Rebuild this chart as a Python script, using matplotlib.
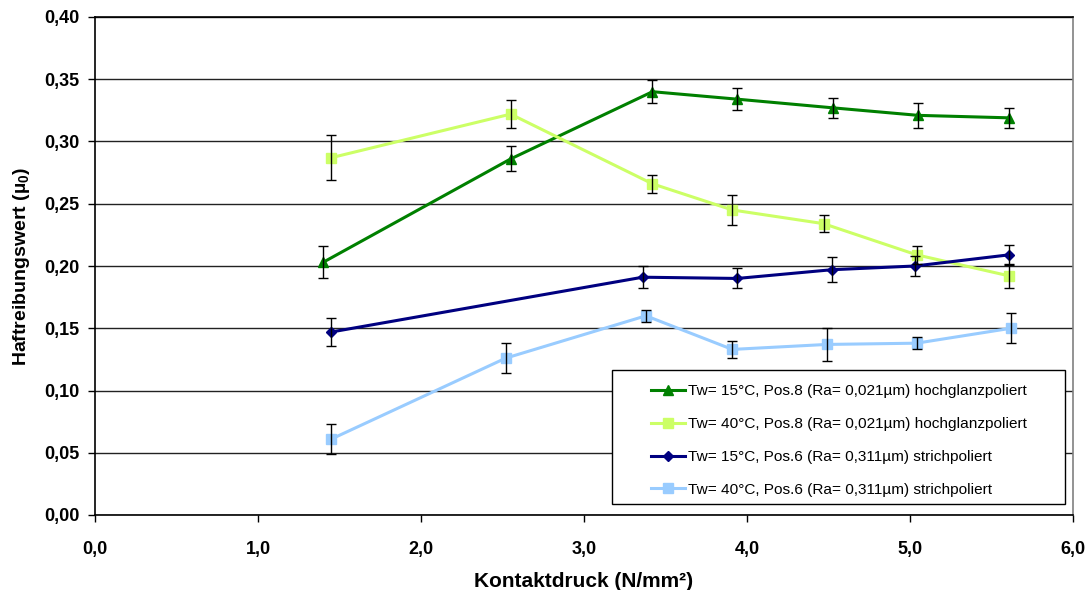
import matplotlib
matplotlib.use('Agg')
import matplotlib.pyplot as plt
from matplotlib.patches import Rectangle
from matplotlib.ticker import FuncFormatter, MultipleLocator

plt.rcParams['font.family'] = ['Liberation Sans', 'DejaVu Sans']
plt.rcParams['mathtext.fontset'] = 'custom'
plt.rcParams['mathtext.rm'] = 'Liberation Sans:bold'
plt.rcParams['mathtext.bf'] = 'Liberation Sans:bold'

# Tw=15°C, Pos.8 hochglanzpoliert
x_15_p8 = [1.40, 2.55, 3.42, 3.94, 4.53, 5.05, 5.61]
y_15_p8 = [0.203, 0.286, 0.340, 0.334, 0.327, 0.321, 0.319]
e_15_p8 = [0.013, 0.010, 0.009, 0.009, 0.008, 0.010, 0.008]

# Tw=40°C, Pos.8 hochglanzpoliert
x_40_p8 = [1.45, 2.55, 3.42, 3.91, 4.47, 5.04, 5.61]
y_40_p8 = [0.287, 0.322, 0.266, 0.245, 0.234, 0.209, 0.192]
e_40_p8 = [0.018, 0.011, 0.007, 0.012, 0.007, 0.007, 0.010]

# Tw=15°C, Pos.6 strichpoliert
x_15_p6 = [1.45, 3.36, 3.94, 4.52, 5.03, 5.61]
y_15_p6 = [0.147, 0.191, 0.190, 0.197, 0.200, 0.209]
e_15_p6 = [0.011, 0.009, 0.008, 0.010, 0.008, 0.008]

# Tw=40°C, Pos.6 strichpoliert
x_40_p6 = [1.45, 2.52, 3.38, 3.91, 4.49, 5.04, 5.62]
y_40_p6 = [0.061, 0.126, 0.160, 0.133, 0.137, 0.138, 0.150]
e_40_p6 = [0.012, 0.012, 0.005, 0.007, 0.013, 0.005, 0.012]

series = [
    (x_15_p8, y_15_p8, e_15_p8, '#008000', '^', 7, 'Tw= 15°C, Pos.8 (Ra= 0,021µm) hochglanzpoliert'),
    (x_40_p8, y_40_p8, e_40_p8, '#CCFF66', 's', 6.5, 'Tw= 40°C, Pos.8 (Ra= 0,021µm) hochglanzpoliert'),
    (x_15_p6, y_15_p6, e_15_p6, '#000080', 'D', 5, 'Tw= 15°C, Pos.6 (Ra= 0,311µm) strichpoliert'),
    (x_40_p6, y_40_p6, e_40_p6, '#99CCFF', 's', 6.5, 'Tw= 40°C, Pos.6 (Ra= 0,311µm) strichpoliert'),
]

fig = plt.figure(figsize=(10.9, 5.9), dpi=100)
ax = fig.add_axes([95/1090, 1 - 515/590, 978/1090, 498/590])

for x, y, e, c, m, ms, lab in series:
    ax.plot(x, y, color=c, lw=2.2, marker=m, ms=ms, label=lab, zorder=3)
for x, y, e, c, m, ms, lab in series:
    ax.errorbar(x, y, yerr=e, fmt='none', ecolor='black', elinewidth=1, capsize=3.5,
                capthick=1, zorder=4)

ax.set_xlim(0, 6)
ax.set_ylim(0, 0.40)
ax.xaxis.set_major_locator(MultipleLocator(1))
ax.yaxis.set_major_locator(MultipleLocator(0.05))
ax.xaxis.set_major_formatter(FuncFormatter(lambda v, p: f'{v:.1f}'.replace('.', ',')))
ax.yaxis.set_major_formatter(FuncFormatter(lambda v, p: f'{v:.2f}'.replace('.', ',')))
ax.yaxis.grid(True, color='#222222', lw=1)
ax.set_axisbelow(True)
ax.tick_params(direction='out', length=5, width=1, labelsize=13)
ax.tick_params(axis='x', pad=14)
ax.tick_params(axis='y', pad=6)
for lbl in ax.get_xticklabels() + ax.get_yticklabels():
    lbl.set_fontweight('bold')

for s in ['left', 'bottom', 'top']:
    ax.spines[s].set_color('black')
    ax.spines[s].set_linewidth(1.2)
ax.spines['right'].set_color('#808080')
ax.spines['right'].set_linewidth(1.2)

ax.set_xlabel('Kontaktdruck (N/mm²)', fontsize=15, fontweight='bold', labelpad=10)
ax.set_ylabel(r'Haftreibungswert (µ$_{0}$)', fontsize=14, fontweight='bold', labelpad=9)

# legend box with wide side padding, as in the original
bx, by, bw, bh = 0.529, 0.022, 0.463, 0.269
ax.add_patch(Rectangle((bx, by), bw, bh, transform=ax.transAxes, facecolor='white',
                       edgecolor='black', lw=1, zorder=5))
leg = ax.legend(loc='center', bbox_to_anchor=(bx + bw / 2, by + bh / 2 - 0.007), fontsize=11.1,
                frameon=False, labelspacing=1.22, handlelength=2.2, handletextpad=0.2,
                borderpad=0, borderaxespad=0)
leg.set_zorder(6)

fig.savefig('out.png', dpi=100)
